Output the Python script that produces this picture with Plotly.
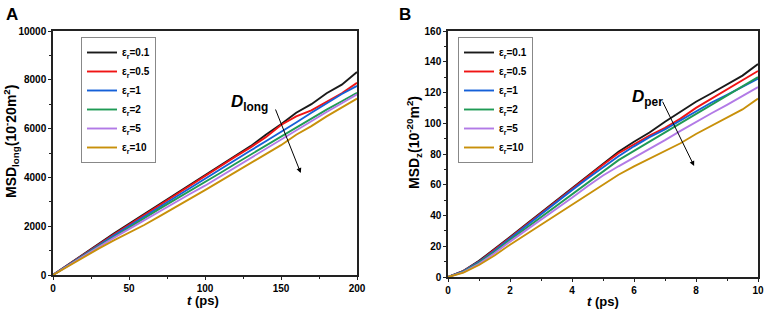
import plotly.graph_objects as go

# ---------------- data ----------------
labels = ["ε<sub>r</sub>=0.1", "ε<sub>r</sub>=0.5", "ε<sub>r</sub>=1",
          "ε<sub>r</sub>=2", "ε<sub>r</sub>=5", "ε<sub>r</sub>=10"]
colors = ["#1a1a1a", "#f01414", "#1560d8", "#1f9a55", "#b27ae6", "#c8900a"]

t_long = [0, 10, 20, 30, 40, 50, 60, 70, 80, 90, 100, 110, 120, 130, 140,
          150, 160, 170, 180, 190, 200]
msd_long_01 = [0, 430, 860, 1280, 1700, 2100, 2500, 2900, 3310, 3710, 4100,
               4500, 4880, 5280, 5750, 6180, 6650, 7000, 7450, 7800, 8320]
msd_long_05 = [0, 420, 840, 1250, 1660, 2060, 2460, 2870, 3280, 3670, 4050,
               4450, 4850, 5230, 5650, 6150, 6500, 6750, 7100, 7450, 7880]
msd_long_1 = [0, 410, 820, 1220, 1620, 2010, 2400, 2790, 3180, 3570, 3960,
              4350, 4740, 5100, 5480, 5850, 6250, 6650, 7050, 7420, 7750]
msd_long_2 = [0, 400, 790, 1180, 1560, 1950, 2330, 2710, 3080, 3440, 3800,
              4180, 4560, 4930, 5300, 5680, 6050, 6420, 6780, 7120, 7470]
msd_long_5 = [0, 390, 770, 1150, 1520, 1880, 2250, 2620, 2980, 3320, 3660,
              4040, 4420, 4800, 5180, 5560, 5940, 6320, 6680, 7040, 7400]
msd_long_10 = [0, 370, 730, 1080, 1420, 1720, 2050, 2400, 2750, 3110, 3480,
               3850, 4220, 4580, 4960, 5320, 5750, 6100, 6500, 6850, 7230]

t_z = [0, 0.5, 1, 1.5, 2, 2.5, 3, 3.5, 4, 4.5, 5, 5.5, 6, 6.5, 7, 7.5, 8,
       8.5, 9, 9.5, 10]
msd_z_01 = [0, 4, 10.5, 18, 26, 34, 42, 50, 58, 66, 74, 81.5, 88, 94, 101,
            107.5, 114, 119.5, 125, 131, 138.5]
msd_z_05 = [0, 4, 10, 17.5, 25.5, 33.5, 41.5, 49.5, 57.5, 65.5, 73, 80.5,
            86.5, 92, 97, 103, 110, 116, 122, 128, 134]
msd_z_1 = [0, 3.8, 9.8, 17, 25, 33, 40.5, 48.5, 56.5, 64, 71.5, 78.5, 85,
           91, 96, 102, 108, 113.5, 118.5, 124, 129]
msd_z_2 = [0, 3.5, 9.3, 16.3, 24, 31.5, 39, 46.5, 54, 61.5, 69, 76, 82,
           88, 94, 100, 106, 112, 118, 124, 130]
msd_z_5 = [0, 3.2, 8.6, 15.4, 23, 30, 37, 44, 51.5, 59, 66, 72, 77.5, 83,
           89, 95, 101, 106.5, 112, 117.5, 123.5]
msd_z_10 = [0, 2.8, 7.8, 14, 21, 27.5, 34, 40.5, 47, 53.5, 60, 66.5, 72,
            77, 82, 87, 93, 98.5, 104, 109, 116]

series_long = [msd_long_01, msd_long_05, msd_long_1, msd_long_2, msd_long_5, msd_long_10]
series_z = [msd_z_01, msd_z_05, msd_z_1, msd_z_2, msd_z_5, msd_z_10]

xticks_long = [0, 50, 100, 150, 200]
yticks_long = [0, 2000, 4000, 6000, 8000, 10000]
xticks_z = [0, 2, 4, 6, 8, 10]
yticks_z = [0, 20, 40, 60, 80, 100, 120, 140, 160]

# ---------------- figure ----------------
W, H = 765, 309
FONT = "Liberation Sans, Arial, sans-serif"
fig = go.Figure()

for lab, col, ys in zip(labels, colors, series_long):
    fig.add_trace(go.Scatter(x=t_long, y=ys, mode="lines", name=lab,
                             line=dict(color=col, width=1.9),
                             xaxis="x", yaxis="y", legend="legend"))
for lab, col, ys in zip(labels, colors, series_z):
    fig.add_trace(go.Scatter(x=t_z, y=ys, mode="lines", name=lab,
                             line=dict(color=col, width=1.9),
                             xaxis="x2", yaxis="y2", legend="legend2"))


def px_x(p):
    return p / W


def px_y(p):
    return 1 - p / H


def axis(domain, rng, ticks, minor_dtick, anchor):
    return dict(domain=domain, range=rng, anchor=anchor, automargin=False,
                tickvals=ticks, ticktext=[str(v) for v in ticks],
                showline=True, linecolor="#222", linewidth=1.5, mirror=True,
                ticks="outside", ticklen=3, tickwidth=1, tickcolor="#222",
                showgrid=False, zeroline=False,
                tickfont=dict(family=FONT, size=10, color="black", weight="bold"),
                minor=dict(ticks="outside", ticklen=2, tickcolor="#222",
                           dtick=minor_dtick))


legend_style = dict(xanchor="left", yanchor="top",
                    bordercolor="#888", borderwidth=1, bgcolor="white",
                    font=dict(family=FONT, size=10, weight="bold"),
                    tracegroupgap=0, itemwidth=30)

fig.update_layout(
    width=W, height=H, margin=dict(l=0, r=0, t=0, b=0, autoexpand=False),
    paper_bgcolor="white", plot_bgcolor="white",
    font=dict(family=FONT, color="black"),
    xaxis=axis([px_x(53), px_x(357)], [0, 200], xticks_long, 25, "y"),
    yaxis=axis([px_y(275), px_y(31)], [0, 10000], yticks_long, 1000, "x"),
    xaxis2=axis([px_x(448), px_x(758)], [0, 10], xticks_z, 1, "y2"),
    yaxis2=axis([px_y(277), px_y(31)], [0, 160], yticks_z, 10, "x2"),
    legend=dict(x=px_x(81), y=px_y(37), **legend_style),
    legend2=dict(x=px_x(458), y=px_y(37), **legend_style),
    showlegend=True,
)


def label(text, x, y, size, angle=0):
    return dict(text=text, xref="paper", yref="paper", x=px_x(x), y=px_y(y),
                xanchor="center", yanchor="middle", textangle=angle,
                showarrow=False, font=dict(size=size, family=FONT))


annotations = [
    label("<b>A</b>", 12, 14, 17),
    label("<b>B</b>", 405, 14, 17),
    # axis titles
    label("<b><i>t</i> (ps)</b>", 203, 300, 13),
    label("<b><i>t</i> (ps)</b>", 603, 301, 13),
    label("<b>MSD<sub>long</sub>(10<sup>-</sup>20m<sup>2</sup>)</b>", 11, 142, 14, -90),
    label("<b>MSD<sub>z</sub>(10<sup>-20</sup>m<sup>2</sup>)</b>", 414, 143, 14, -90),
    # D annotations + arrows
    dict(text="<b><i>D</i></b><sub><b>long</b></sub>", xref="x", yref="y",
         x=129, y=7050, xanchor="center", yanchor="middle", showarrow=False,
         font=dict(size=17, family=FONT)),
    dict(text="", xref="x", yref="y", x=163, y=4180, axref="x", ayref="y",
         ax=146, ay=6844, showarrow=True, arrowhead=2, arrowsize=1,
         arrowwidth=1, arrowcolor="black"),
    dict(text="<b><i>D</i></b><sub><b>per</b></sub>", xref="x2", yref="y2",
         x=6.45, y=116.4, xanchor="center", yanchor="middle", showarrow=False,
         font=dict(size=17, family=FONT)),
    dict(text="", xref="x2", yref="y2", x=7.94, y=72.2, axref="x2", ayref="y2",
         ax=6.9, ay=115, showarrow=True, arrowhead=2, arrowsize=1,
         arrowwidth=1, arrowcolor="black"),
]
fig.update_layout(annotations=annotations)

fig.write_html("out.html", config={"displayModeBar": False},
               post_script="document.body.style.margin='0';document.body.style.padding='0';")
